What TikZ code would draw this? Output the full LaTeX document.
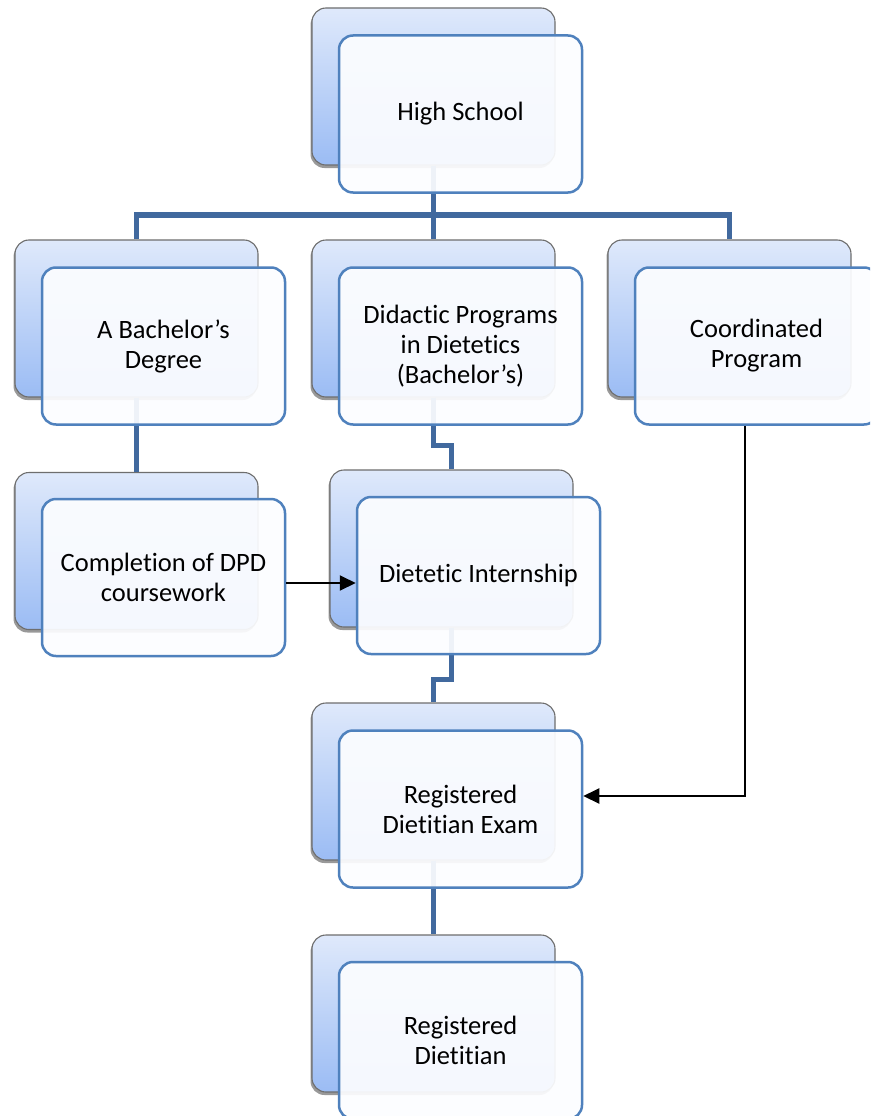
\documentclass[tikz,border=0pt]{standalone}
\usepackage{fontspec}
\setmainfont{Carlito}[Ligatures={NoCommon}]
\usetikzlibrary{shadows,arrows.meta}
\definecolor{backtop}{HTML}{DFE9FB}
\definecolor{backbot}{HTML}{9BBCF4}
\definecolor{backline}{HTML}{6E6E6E}
\definecolor{frontline}{HTML}{4F81BD}
\definecolor{frontfill}{HTML}{FCFDFF}
\definecolor{connc}{HTML}{41699E}
\begin{document}
\begin{tikzpicture}[x=1pt,y=-1pt,
  backbox/.style={draw=backline, line width=1.1pt, rounded corners=14pt,
    top color=backtop, bottom color=backbot,
    minimum width=243pt, minimum height=157pt, inner sep=0pt,
    drop shadow={shadow xshift=-1.5pt, shadow yshift=-3pt, opacity=0.4, fill=black}},
  frontbox/.style={draw=frontline, line width=2.5pt, rounded corners=14pt,
    fill=frontfill, fill opacity=0.93, text opacity=1,
    minimum width=243pt, minimum height=157pt, inner sep=0pt,
    align=center, font=\fontsize{26.5}{30}\selectfont},
  conn/.style={draw=connc, line width=5.5pt},
  arr/.style={draw=black, line width=2pt, -{Triangle[length=16pt,width=15pt]}}
]
\useasboundingbox (0,0) rectangle (870,1116);
\clip (0,0) rectangle (870,1116);
\fill[white] (0,0) rectangle (870,1116);

% back boxes
\node[backbox] (hsB) at (433.5,86.5) {};
\node[backbox] (bachB) at (136.5,318.5) {};
\node[backbox] (didB) at (433.5,318.5) {};
\node[backbox] (coordB) at (729.5,318.5) {};
\node[backbox] (compB) at (136.5,551) {};
\node[backbox] (intB) at (451.5,548.5) {};
\node[backbox] (examB) at (433.5,781.5) {};
\node[backbox] (rdB) at (433.5,1013.5) {};

% hierarchy connectors
\coordinate (bus) at (433.5,215);
\draw[conn] (hsB.south) -- (bus);
\draw[conn] (bachB.north) |- (bus) -| (coordB.north);
\draw[conn] (bus) -- (didB.north);
\draw[conn] (bachB.south) -- (compB.north);
\draw[conn] (didB.south) -- ++(0,48) -| (intB.north);
\draw[conn] (intB.south) -- ++(0,52) -| (examB.north);
\draw[conn] (examB.south) -- (rdB.north);

% front boxes
\node[frontbox] (hs) at (460.5,114) {High School};
\node[frontbox] (bach) at (163.5,346) {A Bachelor’s\\Degree};
\node[frontbox] (did) at (460.5,346) {Didactic Programs\\in Dietetics\\(Bachelor’s)};
\node[frontbox] (coord) at (756.5,346) {Coordinated\\Program};
\node[frontbox] (comp) at (163.5,577.5) {Completion of DPD\\coursework};
\node[frontbox] (int) at (478.5,575.5) {Dietetic Internship};
\node[frontbox] (exam) at (460.5,809) {Registered\\Dietitian Exam};
\node[frontbox] (rd) at (460.5,1040.5) {Registered\\Dietitian};

% black arrows
\draw[arr] ([yshift=-5.5pt]comp.east) -- ([yshift=-5.5pt]comp.east -| int.west);
\draw[arr] ([xshift=-11.5pt]coord.south) |- ([yshift=13pt]exam.east);
\end{tikzpicture}
\end{document}
